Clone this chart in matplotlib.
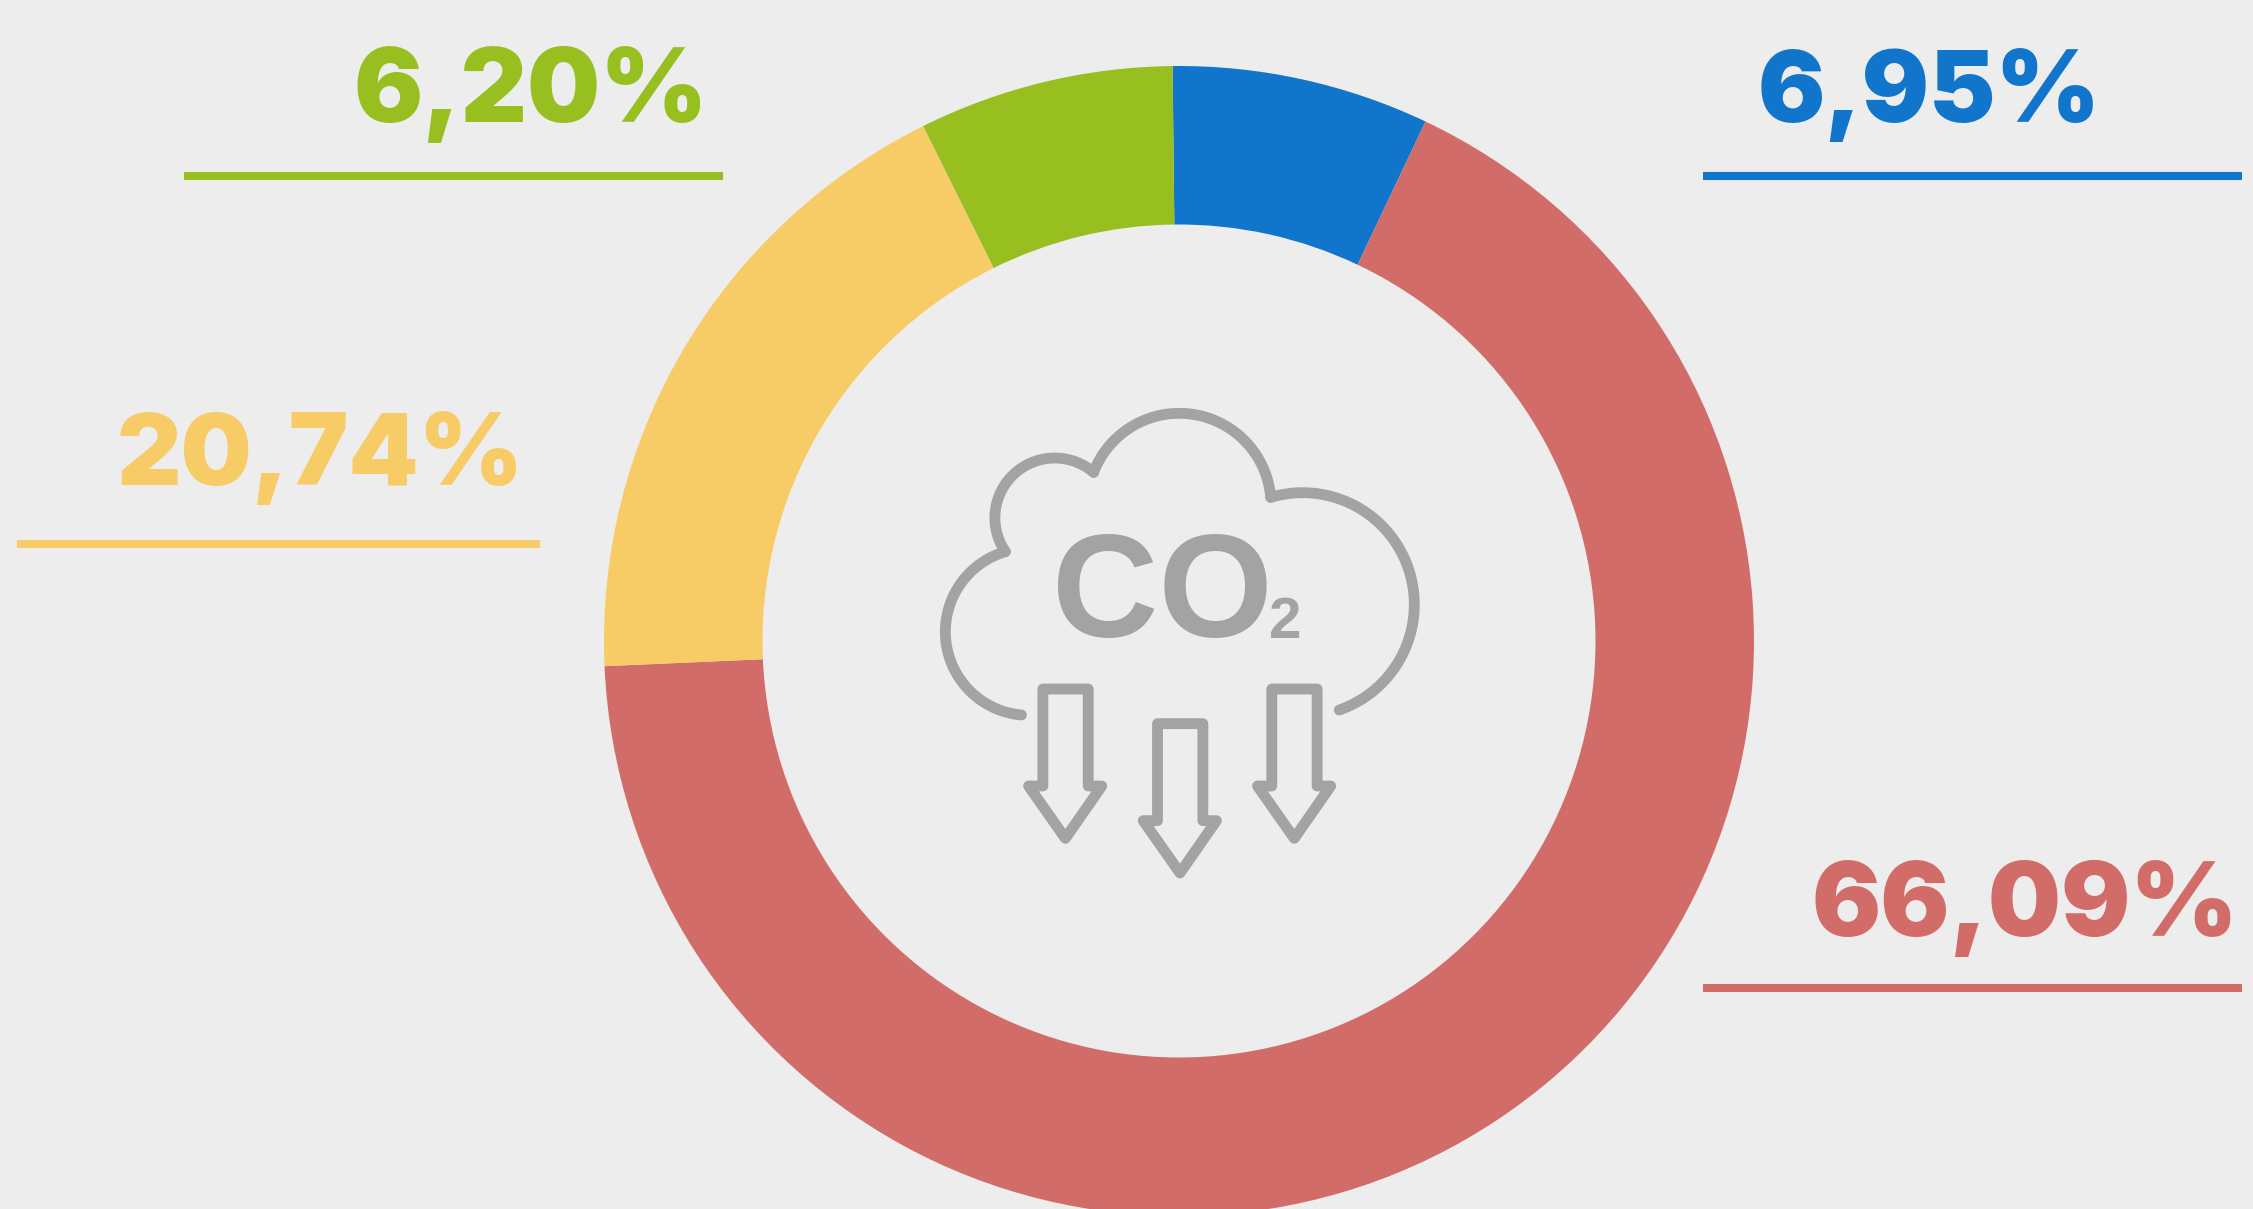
import matplotlib
import matplotlib.pyplot as plt
import numpy as np
from matplotlib.patches import Polygon
matplotlib.use('Agg')

# printed figures, and the share of the ring each slice really takes in the picture
labels = ["6,95%", "66,09%", "20,74%", "6,20%"]
arc_shares = [7.23, 67.25, 18.36, 7.16]
colors = ['#1275cc', '#d16c69', '#f7cb66', '#97bf1f']

BG = '#ededed'
GREY = '#a3a3a3'
W, H = 2253, 1209


def py(y):
    return H - y


def zoom_xy(points):
    return [(900 + x / 2.8, py(380 + y / 3)) for x, y in points]


def arc3(p0, p1, p2, n=80):
    # circle arc through three points, from p0 to p2 by way of p1
    (ax_, ay), (bx, by), (cx, cy) = p0, p1, p2
    d = 2 * (ax_ * (by - cy) + bx * (cy - ay) + cx * (ay - by))
    ux = ((ax_ ** 2 + ay ** 2) * (by - cy) + (bx ** 2 + by ** 2) * (cy - ay) + (cx ** 2 + cy ** 2) * (ay - by)) / d
    uy = ((ax_ ** 2 + ay ** 2) * (cx - bx) + (bx ** 2 + by ** 2) * (ax_ - cx) + (cx ** 2 + cy ** 2) * (bx - ax_)) / d
    r = np.hypot(ax_ - ux, ay - uy)
    t0 = np.arctan2(ay - uy, ax_ - ux)
    t1 = np.arctan2(by - uy, bx - ux)
    t2 = np.arctan2(cy - uy, cx - ux)
    # go round whichever way passes p1
    if (t1 - t0) % (2 * np.pi) < (t2 - t0) % (2 * np.pi):
        t = np.linspace(t0, t0 + (t2 - t0) % (2 * np.pi), n)
    else:
        t = np.linspace(t0, t0 - (t0 - t2) % (2 * np.pi), n)
    return ux + r * np.cos(t), uy + r * np.sin(t)


fig = plt.figure(figsize=(W / 100, H / 100), dpi=100, facecolor=BG)
ax = fig.add_axes([0, 0, 1, 1])
ax.set_facecolor(BG)

ax.pie(arc_shares, colors=colors, center=(1179, py(641)), radius=575, startangle=90.64,
       counterclock=False, wedgeprops={'width': 158.5, 'linewidth': 0})
ax.set_xlim(0, W)
ax.set_ylim(0, H)
ax.set_aspect('auto')
ax.axis('off')

# labels and the rules under them
ax.text(1929, py(122), labels[0], color=colors[0], family='Inter', weight='black', fontsize=72,
        ha='center', va='baseline')
ax.text(2025, py(936), labels[1], color=colors[1], family='Inter', weight='black', fontsize=74,
        ha='center', va='baseline')
ax.text(320, py(485), labels[2], color=colors[2], family='Inter', weight='black', fontsize=72,
        ha='center', va='baseline')
ax.text(531, py(122), labels[3], color=colors[3], family='Inter', weight='black', fontsize=74,
        ha='center', va='baseline')

ax.plot([1703, 2242], [py(176), py(176)], color=colors[0], lw=5.8, solid_capstyle='butt')
ax.plot([1703, 2242], [py(988), py(988)], color=colors[1], lw=5.8, solid_capstyle='butt')
ax.plot([17, 540], [py(544), py(544)], color=colors[2], lw=5.8, solid_capstyle='butt')
ax.plot([184, 723], [py(176), py(176)], color=colors[3], lw=5.8, solid_capstyle='butt')

# cloud icon, four lobes
lobes = [
    [(340, 1005), (127, 760), (295, 515)],
    [(295, 515), (285, 330), (542, 277)],
    [(542, 277), (780, 100), (1038, 352)],
    [(1038, 352), (1440, 680), (1230, 990)],
]
for lobe in lobes:
    lx, ly = arc3(*zoom_xy(lobe))
    ax.plot(lx, ly, color=GREY, lw=7.8, solid_capstyle='round')

arrow = [(400, 927), (527, 927), (527, 1218), (565, 1218), (463, 1375), (360, 1218), (400, 1218)]
for dx, dy in [(0, 0), (321, 104), (641, 0)]:
    pts = zoom_xy([(x + dx, y + dy) for x, y in arrow])
    ax.add_patch(Polygon(pts, closed=True, fill=False, edgecolor=GREY, lw=7.8, joinstyle='round'))

ax.text(1162, py(637), "CO", color=GREY, family='Liberation Sans', weight='bold', fontsize=106,
        ha='center', va='baseline')
ax.text(1285, py(638), "2", color=GREY, family='Liberation Sans', weight='bold', fontsize=42,
        ha='center', va='baseline')

plt.savefig('out.png', dpi=100, facecolor=BG)
plt.close()
